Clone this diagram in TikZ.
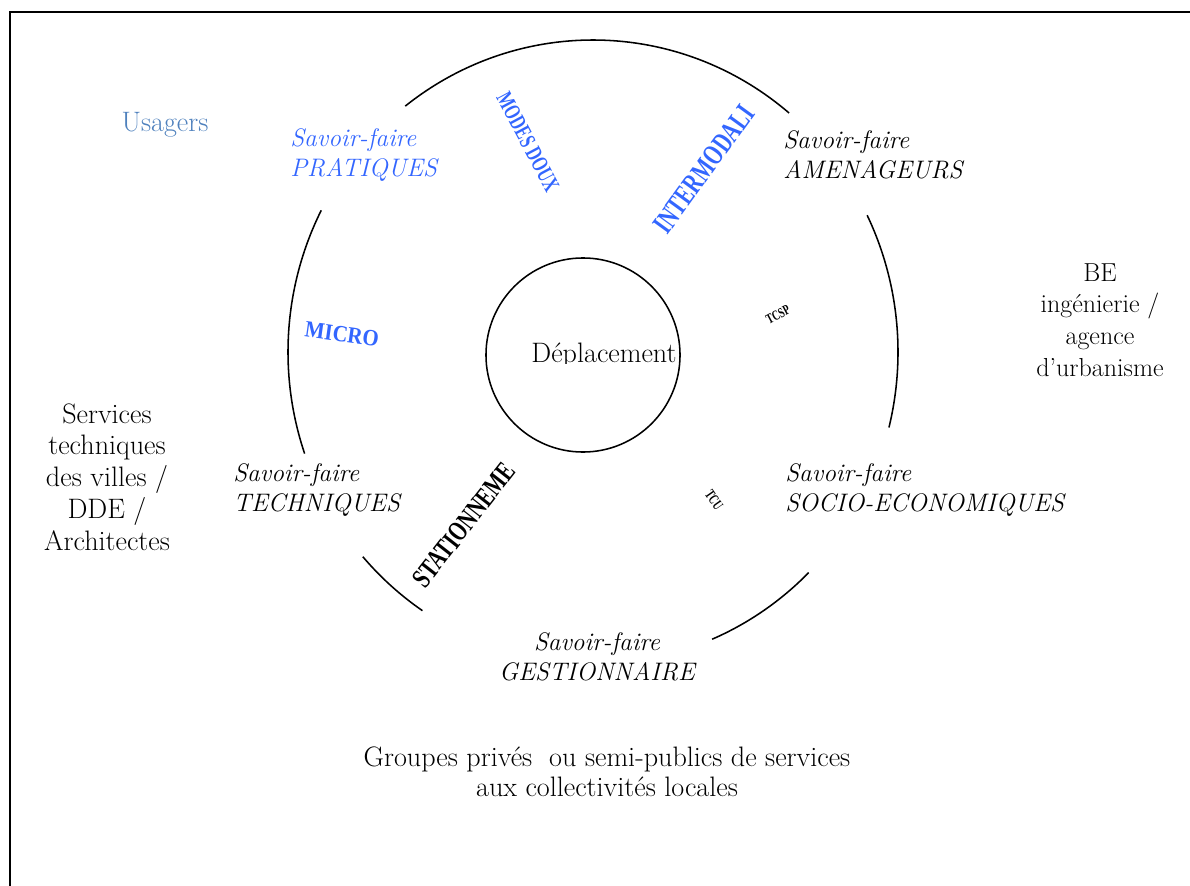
\documentclass[tikz,border=0pt]{standalone}
\usepackage{fontspec}
\newfontfamily\artfont{Liberation Serif}
\usetikzlibrary{positioning}

\definecolor{usagerblue}{RGB}{79,129,189}
\definecolor{savoirblue}{RGB}{51,102,255}

\tikzset{
  txt/.style={font=\fontsize{20}{22.6}\selectfont, inner sep=0pt},
  savoir/.style={font=\fontsize{18}{21.3}\selectfont\itshape, inner sep=0pt, align=left, anchor=west},
  wordart/.style={font=\artfont\bfseries, inner sep=0pt},
}

\begin{document}
\begin{tikzpicture}[x=0.025cm, y=-0.025cm]
    \clip (0,0) rectangle (1190,886);
    \draw[line width=1.4pt] (10,900) -- (10,12) -- (1200,12);
    \coordinate (C) at (593,352);
    % the ring, broken where the savoir-faire labels sit
    \foreach \a/\b in {-128/-50, -26/14, 45/67, 124/139, 161/207}
        \draw[line width=1.1pt] (C) ++(\a:305 and 312) arc[start angle=\a, end angle=\b, x radius=305, y radius=312];
    \node[draw, circle, line width=1.1pt, minimum size=4.85cm, inner sep=0pt] (depl) at (583,355) {};
    \begin{scope}
        \clip (480,320) rectangle (690,363);
        \node[txt, anchor=base] (depltxt) at (604,362) {Déplacement};
    \end{scope}

    \node[txt, usagerblue] (usagers) at (165,125) {Usagers};
    \node[savoir, savoirblue] (prat) at (290,155) {Savoir-faire\\PRATIQUES};
    \node[savoir] (amen) at (783,155) {Savoir-faire\\AMENAGEURS};
    \node[savoir] (tech) at (233,490) {Savoir-faire\\TECHNIQUES};
    \node[savoir] (socio) at (785,490) {Savoir-faire\\SOCIO-ECONOMIQUES};
    \node[savoir, align=center, anchor=center] (gest) at (597,657) {Savoir-faire\\GESTIONNAIRE};

    \node[txt, align=center, font=\fontsize{18.5}{22.6}\selectfont] (be) at (1100,320) {BE\\ingénierie /\\agence\\d’urbanisme};
    \node[txt, align=center] (serv) at (107,477) {Services\\techniques\\des villes /\\DDE /\\Architectes};
    \node[txt, align=center, font=\fontsize{20}{21.3}\selectfont] (grp) at (607,772) {Groupes privés~~ou semi-publics de services\\aux collectivités locales};

    % word-art themes
    \node[wordart, savoirblue, rotate=-62, font=\artfont\bfseries\fontsize{16.5}{16.5}\selectfont] (doux) at (528,142) {\scalebox{0.68}[1]{MODES DOUX}};
    \node[wordart, savoirblue, rotate=54, font=\artfont\bfseries\fontsize{21}{21}\selectfont] (inter) at (704,169) {\scalebox{0.69}[1]{INTERMODALI}};
    \node[wordart, savoirblue, rotate=-8, font=\artfont\bfseries\fontsize{16.5}{16.5}\selectfont] (micro) at (342,334) {\scalebox{0.9}[1]{MICRO}};
    \node[wordart, rotate=52, font=\artfont\bfseries\fontsize{20}{20}\selectfont] (stat) at (464,525) {\scalebox{0.72}[1]{STATIONNEME}};
    \node[wordart, rotate=28, font=\artfont\bfseries\fontsize{10}{10}\selectfont] (tcsp) at (778,315) {\scalebox{0.7}[1]{TCSP}};
    \node[wordart, rotate=-55, font=\artfont\bfseries\fontsize{10.5}{10.5}\selectfont] (tcu) at (714,500) {\scalebox{0.65}[1]{TCU}};
\end{tikzpicture}
\end{document}
